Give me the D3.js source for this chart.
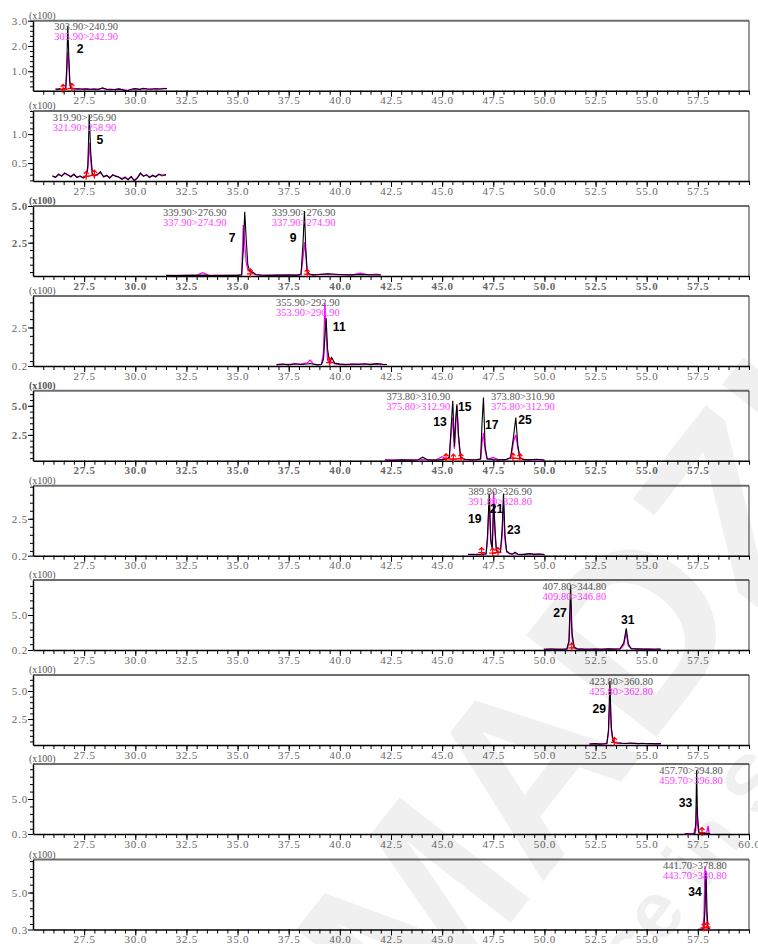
<!DOCTYPE html>
<html>
<head>
<meta charset="utf-8">
<script src="https://cdn.jsdelivr.net/npm/d3@7"></script>
<style>
  body { margin: 0; background: #fff; }
  svg { display: block; }
</style>
</head>
<body>
<svg id="chart" width="758" height="944"></svg>
<script>
"use strict";

// ── Data ─────────────────────────────────────────────────────────────────────
const xDomain = [25, 60];
const xLabelTicks = [27.5, 30.0, 32.5, 35.0, 37.5, 40.0, 42.5, 45.0, 47.5, 50.0, 52.5, 55.0, 57.5];
const xLabelTicksLast = [27.5, 30.0, 32.5, 35.0, 37.5, 40.0, 42.5, 45.0, 47.5, 50.0, 52.5, 55.0, 57.5, 60.0];

const yRanges = [[0.23, 3.0], [0.19, 1.40], [0.23, 5.0], [0.2, 4.38], [0.28, 6.3],
                 [0.2, 4.56], [0.2, 9.8], [0.18, 6.43], [0.3, 9.7], [0.3, 9.2]];
const yLabelTicks = [[1.0, 2.0, 3.0], [0.5, 1.0], [2.5, 5.0], [0.2, 2.5], [2.5, 5.0],
                     [0.2, 2.5], [0.2, 5.0], [2.5, 5.0], [0.3, 5.0], [0.3, 5.0]];
const yMinorStep = [0.2, 0.1, 0.5, 0.5, 0.5, 0.5, 1.0, 0.5, 1.0, 1.0];

const quantIons = ["303.90>240.90", "319.90>256.90", "339.90>276.90", "355.90>292.90", "373.80>310.90",
                   "389.80>326.90", "407.80>344.80", "423.80>360.80", "457.70>394.80", "441.70>378.80"];
const qualIons  = ["305.90>242.90", "321.90>258.90", "337.90>274.90", "353.90>290.90", "375.80>312.90",
                   "391.80>328.80", "409.80>346.80", "425.80>362.80", "459.70>396.80", "443.70>380.80"];
const ionLabelTimes = [[26.04], [25.96], [31.35, 36.67], [36.88], [42.28, 47.39],
                       [46.28], [49.91], [52.19], [55.61], [55.8]];

const peakNames = [["2"], ["5"], ["7", "9"], ["11"], ["13", "15", "17", "25"],
                   ["19", "21", "23"], ["27", "31"], ["29"], ["33"], ["34"]];
const peakLabelTimes = [[27.3], [28.27], [34.73, 37.72], [39.97], [44.89, 46.1, 47.43, 49.05],
                        [46.6, 47.66, 48.5], [50.76, 54.07], [52.68], [56.9], [57.36]];

// red integration markers, grouped per peak
const markerTimes = [[[26.47, 26.9]], [[27.6, 28.0]], [[35.62], [38.4]], [[39.5]],
                     [[45.19, 45.55, 45.92], [48.46, 48.8]], [[46.93], [47.47, 47.73]],
                     [[51.34]], [[53.42]], [[57.7]], [[57.8, 57.95]]];
const markerVals  = [[[0.28, 0.32]], [[0.27, 0.29]], [[0.38], [0.36]], [[0.4]],
                     [[0.45, 0.42, 0.45], [0.5, 0.45]], [[0.4], [0.36, 0.4]],
                     [[0.5]], [[0.42]], [[0.5]], [[0.5, 0.6]]];

// chromatogram traces (retention time in min, intensity x100)
const p1Time = [26.1, 26.2, 26.3, 26.4, 26.5, 26.6, 26.65, 26.7, 26.75, 26.8, 26.85, 26.9, 27.0, 27.2, 27.4, 27.6, 27.8, 28.0,
                28.2, 28.4, 28.6, 28.8, 29.0, 29.2, 29.4, 29.6, 29.8, 30.0, 30.2, 30.4, 30.6, 30.8, 31.0, 31.2, 31.4, 31.55];
const p1Black = [0.30, 0.28, 0.31, 0.27, 0.30, 0.32, 1.2, 2.80, 1.6, 0.6, 0.35, 0.32, 0.30, 0.31, 0.29, 0.30, 0.29, 0.30,
                 0.28, 0.34, 0.29, 0.27, 0.28, 0.30, 0.26, 0.22, 0.29, 0.31, 0.28, 0.32, 0.30, 0.29, 0.31, 0.30, 0.31, 0.32];
const p1Mag   = [0.29, 0.30, 0.29, 0.28, 0.31, 0.33, 0.9, 1.75, 1.3, 0.5, 0.33, 0.30, 0.31, 0.29, 0.30, 0.31, 0.28, 0.29,
                 0.30, 0.32, 0.28, 0.29, 0.27, 0.29, 0.28, 0.24, 0.27, 0.30, 0.29, 0.31, 0.29, 0.30, 0.30, 0.29, 0.32, 0.31];

const p2Time = [25.95, 26.1, 26.25, 26.4, 26.55, 26.7, 26.85, 27.0, 27.15, 27.3, 27.45, 27.6, 27.68, 27.75, 27.82, 27.9, 28.0,
                28.15, 28.3, 28.45, 28.6, 28.75, 28.9, 29.05, 29.2, 29.35, 29.5, 29.65, 29.8, 29.95, 30.1, 30.25, 30.4,
                30.55, 30.7, 30.85, 31.0, 31.15, 31.3, 31.5];
const p2Black = [0.28, 0.25, 0.31, 0.27, 0.33, 0.30, 0.26, 0.31, 0.25, 0.28, 0.24, 0.27, 0.45, 1.33, 0.70, 0.32, 0.28,
                 0.30, 0.35, 0.26, 0.29, 0.24, 0.30, 0.27, 0.26, 0.22, 0.25, 0.21, 0.27, 0.19, 0.24, 0.33, 0.27,
                 0.30, 0.25, 0.29, 0.26, 0.31, 0.29, 0.30];
const p2Mag   = [0.27, 0.26, 0.30, 0.28, 0.32, 0.29, 0.27, 0.30, 0.26, 0.27, 0.25, 0.28, 0.40, 0.85, 0.55, 0.30, 0.27,
                 0.31, 0.33, 0.27, 0.28, 0.25, 0.29, 0.28, 0.25, 0.23, 0.26, 0.22, 0.26, 0.20, 0.25, 0.31, 0.28,
                 0.29, 0.26, 0.28, 0.27, 0.30, 0.28, 0.29];

const p3Time = [31.5, 32.0, 32.5, 33.0, 33.3, 33.6, 34.0, 34.5, 35.0, 35.2, 35.28, 35.35, 35.42, 35.5, 35.6, 35.75, 35.9,
                36.2, 36.6, 37.0, 37.5, 37.9, 38.1, 38.2, 38.27, 38.33, 38.4, 38.5, 38.7, 39.0, 39.4, 39.8, 40.2,
                40.6, 41.0, 41.4, 41.8, 42.0];
const p3Black = [0.27, 0.26, 0.28, 0.27, 0.29, 0.27, 0.26, 0.28, 0.27, 0.31, 2.0, 4.6, 2.8, 1.0, 0.55, 0.48, 0.33,
                 0.28, 0.27, 0.29, 0.30, 0.29, 0.34, 2.5, 4.65, 2.2, 0.6, 0.36, 0.31, 0.33, 0.38, 0.35, 0.32,
                 0.31, 0.33, 0.32, 0.30, 0.31];
const p3Mag   = [0.26, 0.27, 0.27, 0.28, 0.45, 0.27, 0.28, 0.27, 0.28, 0.30, 3.7, 2.4, 1.2, 0.65, 0.58, 0.42, 0.31,
                 0.27, 0.29, 0.28, 0.31, 0.28, 0.31, 1.5, 2.55, 1.8, 0.5, 0.33, 0.30, 0.34, 0.36, 0.32, 0.31,
                 0.30, 0.42, 0.31, 0.36, 0.30];

const p4Time = [36.9, 37.2, 37.5, 37.8, 38.1, 38.4, 38.55, 38.7, 38.9, 39.1, 39.2, 39.27, 39.33, 39.4, 39.5, 39.6, 39.75,
                40.0, 40.3, 40.6, 40.9, 41.2, 41.5, 41.8, 42.1, 42.3];
const p4Black = [0.28, 0.32, 0.27, 0.33, 0.29, 0.32, 0.35, 0.30, 0.27, 0.29, 0.6, 2.0, 3.05, 1.2, 0.40, 0.70, 0.37,
                 0.31, 0.28, 0.32, 0.29, 0.33, 0.28, 0.34, 0.30, 0.29];
const p4Mag   = [0.27, 0.30, 0.29, 0.31, 0.32, 0.38, 0.55, 0.32, 0.28, 0.30, 1.0, 3.96, 2.2, 0.55, 0.35, 0.45, 0.33,
                 0.29, 0.30, 0.29, 0.32, 0.30, 0.31, 0.32, 0.28, 0.30];

const p5Time = [42.2, 42.6, 43.0, 43.4, 43.8, 44.05, 44.3, 44.7, 45.0, 45.2, 45.35, 45.45, 45.52, 45.6, 45.66, 45.72,
                45.8, 45.9, 46.1, 46.4, 46.7, 46.88, 46.95, 47.02, 47.1, 47.2, 47.5, 47.8, 48.1, 48.35, 48.5,
                48.6, 48.7, 48.8, 49.0, 49.3, 49.6, 50.0];
const p5Black = [0.34, 0.32, 0.35, 0.33, 0.34, 0.58, 0.35, 0.33, 0.37, 0.40, 0.55, 3.5, 5.43, 1.5, 3.8, 5.14,
                 2.5, 0.6, 0.40, 0.35, 0.37, 0.45, 3.5, 5.71, 1.5, 0.45, 0.37, 0.35, 0.37, 0.55, 2.5,
                 3.99, 1.6, 0.55, 0.37, 0.35, 0.40, 0.34];
const p5Mag   = [0.32, 0.34, 0.33, 0.35, 0.33, 0.40, 0.33, 0.35, 0.62, 0.42, 0.6, 2.8, 4.0, 1.3, 3.2, 5.0,
                 2.2, 0.55, 0.37, 0.33, 0.35, 0.40, 1.8, 2.67, 1.2, 0.40, 0.55, 0.33, 0.35, 0.50, 2.0,
                 2.5, 1.4, 0.50, 0.35, 0.37, 0.35, 0.32];

const p6Time = [46.26, 46.5, 46.75, 47.0, 47.15, 47.22, 47.3, 47.38, 47.45, 47.52, 47.58, 47.65, 47.75, 47.85,
                47.93, 48.0, 48.07, 48.15, 48.3, 48.45, 48.56, 48.7, 48.9, 49.1, 49.3, 49.5, 49.7, 50.0];
const p6Black = [0.27, 0.29, 0.26, 0.30, 0.32, 1.5, 4.08, 1.2, 0.6, 3.46, 2.0, 0.55, 0.40, 0.45,
                 1.8, 4.08, 1.5, 0.50, 0.34, 0.30, 0.42, 0.29, 0.27, 0.30, 0.33, 0.28, 0.31, 0.27];
const p6Mag   = [0.28, 0.27, 0.29, 0.28, 0.31, 1.2, 3.65, 1.0, 0.7, 4.18, 1.6, 0.50, 0.38, 0.40,
                 1.4, 3.46, 1.2, 0.44, 0.32, 0.31, 0.34, 0.30, 0.28, 0.29, 0.32, 0.30, 0.29, 0.28];

const p7Time = [49.97, 50.3, 50.6, 50.9, 51.1, 51.2, 51.28, 51.35, 51.45, 51.6, 51.9, 52.2, 52.5, 52.8, 53.1,
                53.4, 53.7, 53.88, 54.0, 54.1, 54.25, 54.5, 54.8, 55.1, 55.4, 55.68];
const p7Black = [0.30, 0.33, 0.28, 0.31, 0.35, 1.5, 9.1, 2.5, 0.6, 0.36, 0.32, 0.30, 0.34, 0.31, 0.35,
                 0.32, 0.36, 1.2, 3.18, 1.0, 0.38, 0.35, 0.32, 0.34, 0.30, 0.32];
const p7Mag   = [0.28, 0.30, 0.31, 0.29, 0.32, 1.2, 6.5, 2.0, 0.5, 0.33, 0.30, 0.32, 0.31, 0.33, 0.32,
                 0.30, 0.33, 0.9, 2.6, 0.8, 0.35, 0.33, 0.30, 0.32, 0.31, 0.30];

const p8Time = [52.2, 52.45, 52.7, 52.9, 53.05, 53.13, 53.2, 53.27, 53.35, 53.45, 53.6, 53.8, 54.0, 54.2, 54.4,
                54.6, 54.8, 55.0, 55.2, 55.4, 55.7];
const p8Black = [0.27, 0.30, 0.26, 0.29, 0.32, 1.5, 5.9, 1.8, 0.55, 0.40, 0.37, 0.34, 0.32, 0.36, 0.32,
                 0.30, 0.33, 0.29, 0.32, 0.28, 0.30];
const p8Mag   = [0.26, 0.28, 0.28, 0.27, 0.30, 1.2, 4.2, 1.5, 0.50, 0.37, 0.34, 0.32, 0.33, 0.32, 0.34,
                 0.31, 0.30, 0.31, 0.29, 0.30, 0.28];

const p9Time = [56.85, 57.0, 57.15, 57.3, 57.36, 57.4, 57.44, 57.48, 57.55, 57.65, 57.75, 57.85, 57.93, 58.0, 58.05, 58.1];
const p9Black = [0.30, 0.32, 0.31, 0.33, 0.40, 2.0, 8.9, 3.0, 0.5, 0.38, 0.35, 0.36, 0.34, 0.40, 0.35, 0.33];
const p9Mag   = [0.31, 0.30, 0.32, 0.35, 1.0, 0.9, 4.0, 1.5, 0.45, 0.36, 0.38, 0.35, 0.40, 1.4, 0.42, 0.32];

const p10Time = [57.5, 57.6, 57.7, 57.75, 57.8, 57.85, 57.9, 57.95, 58.0, 58.1];
const p10Black = [0.30, 0.32, 0.31, 0.35, 0.6, 3.0, 7.7, 2.5, 0.5, 0.35];
const p10Mag   = [0.31, 0.30, 0.33, 0.5, 2.0, 8.34, 3.5, 1.0, 0.4, 0.33];

// ── Layout ───────────────────────────────────────────────────────────────────
const W = 758, H = 944;
const plotLeft = 33, plotRight = 749, plotH = 70;
const panelTop = [20.7, 111, 206, 296, 390.7, 485.7, 580, 675, 764, 859.5];
// vertical offset (px below frame top) of each peak number
const peakLabelDy = [[27.5], [28], [31, 31], [30], [31, 16, 34, 29], [33, 23, 44], [32, 39], [33], [38], [32]];
const boldPanels = [2, 4];

const traces = [
  [p1Time, p1Black, p1Mag], [p2Time, p2Black, p2Mag], [p3Time, p3Black, p3Mag], [p4Time, p4Black, p4Mag],
  [p5Time, p5Black, p5Mag], [p6Time, p6Black, p6Mag], [p7Time, p7Black, p7Mag], [p8Time, p8Black, p8Mag],
  [p9Time, p9Black, p9Mag], [p10Time, p10Black, p10Mag]
];

const svg = d3.select("#chart").attr("viewBox", `0 0 ${W} ${H}`);
const x = d3.scaleLinear().domain(xDomain).range([plotLeft, plotRight]);
const serif = "'Liberation Serif', serif";

function styleTickText(sel, bold) {
  sel.selectAll("text")
    .attr("font-family", serif).attr("font-size", 11).attr("fill", "#666")
    .attr("letter-spacing", 0.8).attr("font-weight", bold);
}

traces.forEach(([time, black, mag], i) => {
  const top = panelTop[i];
  const bottom = top + plotH;
  const [yMin, yMax] = yRanges[i];
  const y = d3.scaleLinear().domain([yMin, yMax]).range([bottom, top]);
  const g = svg.append("g").attr("class", "panel");
  const bold = boldPanels.includes(i) ? "bold" : "normal";

  // frame: heavy grey top, thin right edge
  g.append("line").attr("x1", plotLeft).attr("x2", plotRight).attr("y1", top).attr("y2", top)
    .attr("stroke", "#6e6e6e").attr("stroke-width", 2);
  g.append("line").attr("x1", plotRight).attr("x2", plotRight).attr("y1", top).attr("y2", bottom)
    .attr("stroke", "#333").attr("stroke-width", 1);

  // x axis, minor then major
  const step = 0.5;
  g.append("g").attr("transform", `translate(0,${bottom})`)
    .call(d3.axisBottom(x).tickValues(d3.range(xDomain[0] + step, xDomain[1] + 0.01, step)).tickSize(4).tickFormat(""))
    .call(a => a.select(".domain").remove())
    .call(a => a.selectAll("line").attr("stroke", "#000"));
  const xl = g.append("g").attr("transform", `translate(0,${bottom})`)
    .call(d3.axisBottom(x).tickValues(i === 8 ? xLabelTicksLast : xLabelTicks)
      .tickSize(6).tickSizeOuter(0).tickPadding(0).tickFormat(d3.format(".1f")));
  xl.select(".domain").attr("stroke", "#000").attr("stroke-width", 1.5);
  styleTickText(xl, bold);

  // y axis, minor then labelled
  const ms = yMinorStep[i];
  g.append("g").attr("transform", `translate(${plotLeft},0)`)
    .call(d3.axisLeft(y).tickValues(d3.range(Math.ceil(yMin / ms) * ms, yMax + 1e-6, ms)).tickSize(3).tickFormat(""))
    .call(a => a.select(".domain").remove());
  const yl = g.append("g").attr("transform", `translate(${plotLeft},0)`)
    .call(d3.axisLeft(y).tickValues(yLabelTicks[i]).tickSize(5).tickSizeOuter(0).tickPadding(0)
      .tickFormat(d3.format(".1f")));
  yl.select(".domain").attr("stroke", "#000").attr("stroke-width", 1.5);
  styleTickText(yl, bold);

  g.append("text").attr("x", 29).attr("y", top - 2)
    .attr("font-family", serif).attr("font-size", 10).attr("font-weight", bold).attr("fill", "#555")
    .text("(x100)");

  // traces: qualifier (magenta) under quantifier (black)
  const line = d3.line().x(d => x(d[0])).y(d => y(d[1]));
  g.append("path").datum(d3.zip(time, mag)).attr("d", line)
    .attr("fill", "none").attr("stroke", "#ff00ff").attr("stroke-width", 1.3);
  g.append("path").datum(d3.zip(time, black)).attr("d", line)
    .attr("fill", "none").attr("stroke", "#000").attr("stroke-width", 1.1);

  // red integration marks
  markerTimes[i].forEach((grp, k) => {
    const pts = d3.zip(grp, markerVals[i][k]);
    if (pts.length > 1) {
      g.append("path").datum(pts).attr("d", line).attr("fill", "none")
        .attr("stroke", "#ff0000").attr("stroke-width", 1.2);
    }
    g.selectAll(null).data(pts).join("path")
      .attr("transform", d => `translate(${x(d[0])},${y(d[1])})`)
      .attr("d", "M-3.5,0H3.5M0,-5V3.5M-2.5,-2.5L0,-5L2.5,-2.5")
      .attr("fill", "none").attr("stroke", "#ff0000").attr("stroke-width", 1.2);
  });

  // transition labels
  ionLabelTimes[i].forEach(t => {
    g.append("text").attr("x", x(t)).attr("y", top + 9.5)
      .attr("font-family", serif).attr("font-size", 10.5).attr("fill", "#555").text(quantIons[i]);
    g.append("text").attr("x", x(t)).attr("y", top + 19.5)
      .attr("font-family", serif).attr("font-size", 10.5).attr("fill", "#ff40ff").text(qualIons[i]);
  });

  // peak numbers
  peakNames[i].forEach((name, k) => {
    const px = x(peakLabelTimes[i][k]);
    g.append("text").attr("x", px).attr("y", top + peakLabelDy[i][k])
      .attr("text-anchor", "middle").attr("dominant-baseline", "central")
      .attr("font-family", "'Liberation Sans', Arial, sans-serif").attr("font-weight", "bold")
      .attr("font-size", 13.5).attr("fill", "#000")
      .attr("transform", `translate(${px},0) scale(0.9,1) translate(${-px},0)`)
      .text(name);
  });
});

// faint publisher watermark
const wm = svg.append("g").attr("fill", "#000").attr("fill-opacity", 0.06)
  .attr("font-family", "'Liberation Sans', Arial, sans-serif").attr("font-weight", "bold");
wm.append("text").attr("transform", "translate(560,860) rotate(-52)")
  .attr("text-anchor", "middle").attr("font-size", 240).text("SHIMADZU");
wm.append("text").attr("transform", "translate(690,910) rotate(-52)")
  .attr("text-anchor", "middle").attr("font-size", 80).text("Excellence in Science");
</script>
</body>
</html>
